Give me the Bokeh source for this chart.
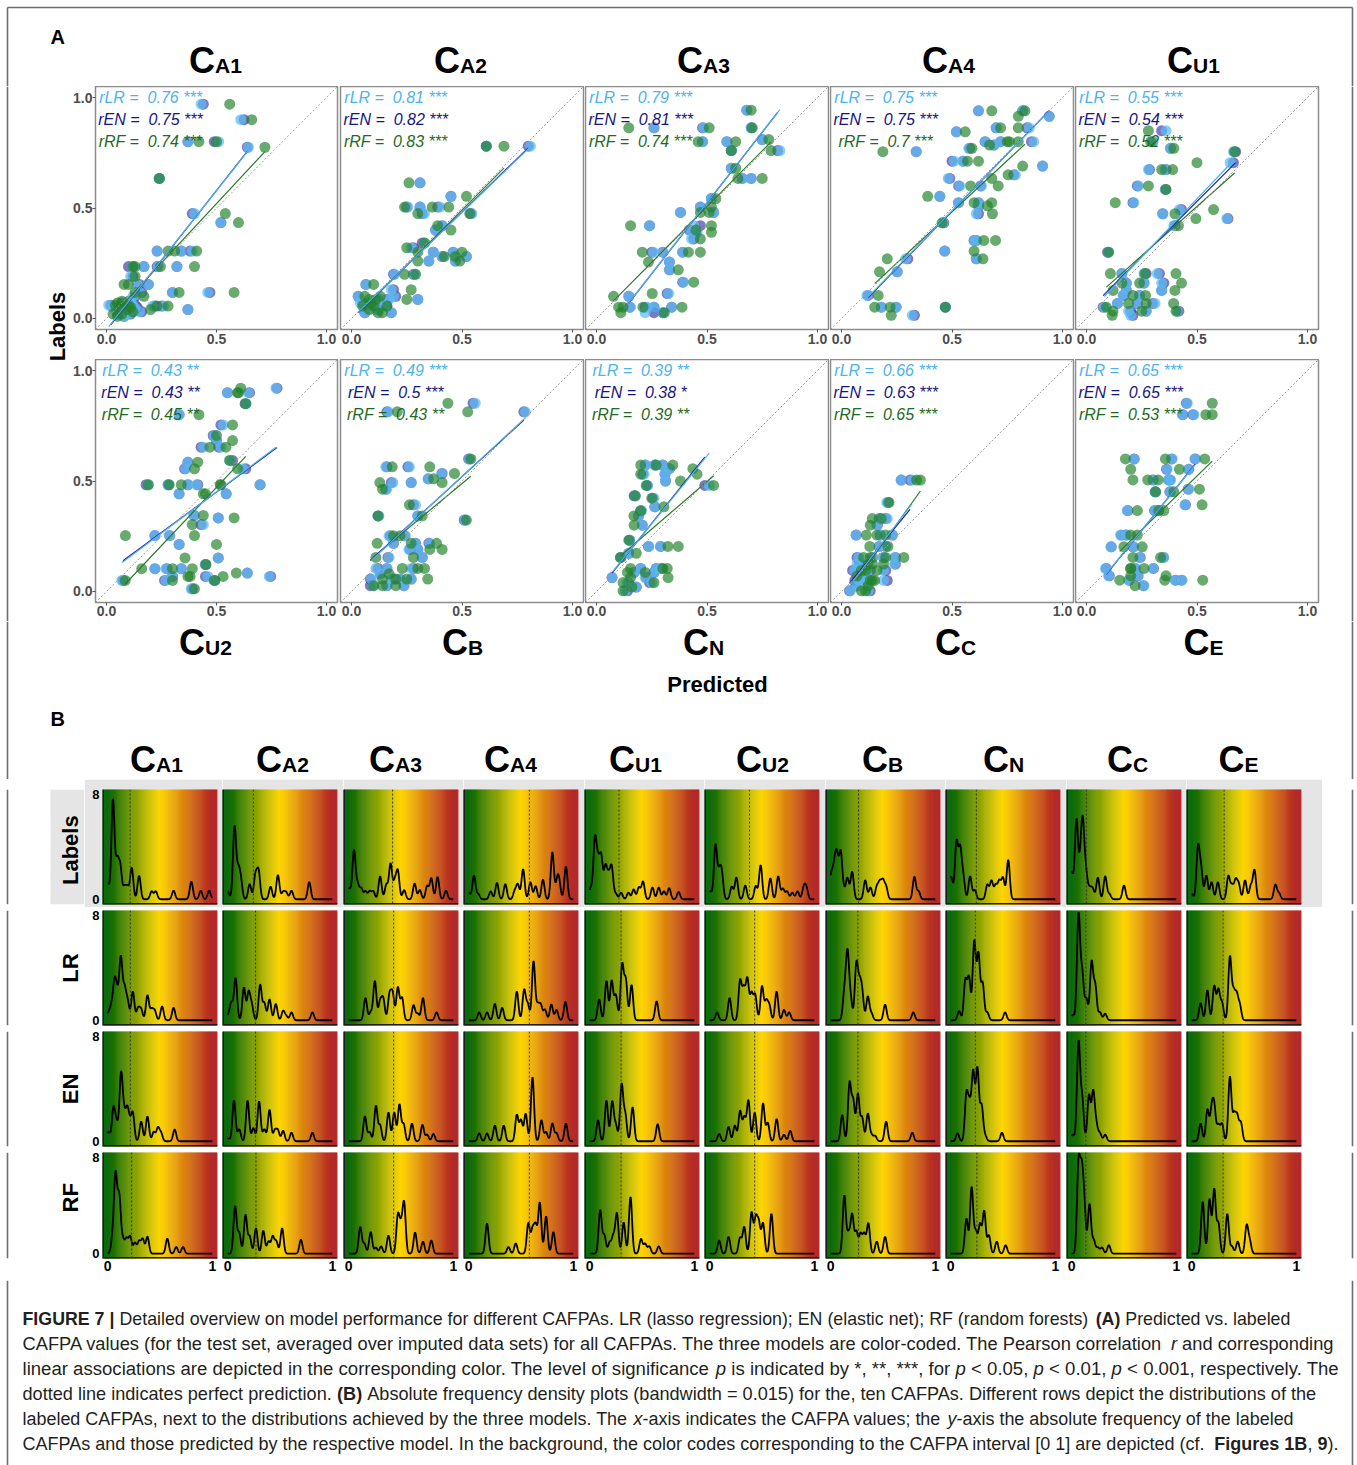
import math
import numpy as np
from bokeh.plotting import figure
from bokeh.layouts import column, row
from bokeh.models import Range1d, FixedTicker, PrintfTickFormatter, Slope, Span, ColumnDataSource
from bokeh.core.properties import value
from bokeh.embed import file_html
from bokeh.resources import INLINE

# ======================= DATA =======================
cafpas = ["CA1", "CA2", "CA3", "CA4", "CU1", "CU2", "CB", "CN", "CC", "CE"]
title_sub = ["A1", "A2", "A3", "A4", "U1", "U2", "B", "N", "C", "E"]

# --- panel A: labeled (y) vs predicted (x) per model ---
sc_CA1_y = [0.97,0.90,0.80,0.80,0.775,0.634,0.475,0.434,0.305,0.305,0.305,0.235,0.235,0.235,0.235,0.19,0.154,0.154,0.118,0.118,0.118,0.10,0.078,0.056,0.056,0.04,0.07,0.06,0.05,0.04,0.03,0.02,0.06,0.01,0.05,0.02]
sc_CA1_lr = [0.43,0.61,0.51,0.37,0.645,0.24,0.40,0.52,0.23,0.39,0.34,0.12,0.17,0.235,0.32,0.11,0.14,0.19,0.30,0.46,0.15,0.12,0.11,0.21,0.26,0.37,0.08,0.12,0.03,0.06,0.15,0.10,0.01,0.08,0.13,0.05]
sc_CA1_en = [0.44,0.625,0.49,0.37,0.64,0.24,0.39,0.52,0.23,0.38,0.34,0.10,0.17,0.23,0.32,0.12,0.15,0.19,0.30,0.47,0.16,0.13,0.10,0.22,0.25,0.37,0.07,0.13,0.04,0.07,0.16,0.11,0.02,0.08,0.14,0.05]
sc_CA1_rf = [0.56,0.66,0.50,0.42,0.72,0.24,0.54,0.60,0.28,0.41,0.31,0.13,0.12,0.245,0.40,0.13,0.08,0.10,0.33,0.58,0.13,0.17,0.07,0.23,0.28,0.20,0.05,0.10,0.06,0.09,0.12,0.07,0.04,0.05,0.11,0.03]

sc_CA2_y = [0.78,0.78,0.614,0.553,0.504,0.504,0.504,0.475,0.475,0.42,0.40,0.342,0.32,0.30,0.30,0.28,0.28,0.26,0.26,0.20,0.20,0.154,0.13,0.10,0.10,0.086,0.086,0.086,0.056,0.056,0.056,0.026,0.026,0.07,0.04]
sc_CA2_lr = [0.81,0.61,0.31,0.45,0.255,0.31,0.40,0.33,0.545,0.41,0.38,0.33,0.27,0.37,0.46,0.41,0.52,0.35,0.47,0.285,0.195,0.065,0.18,0.03,0.19,0.30,0.17,0.13,0.15,0.10,0.06,0.06,0.18,0.04,0.11]
sc_CA2_en = [0.80,0.61,0.31,0.45,0.25,0.31,0.39,0.32,0.54,0.41,0.38,0.32,0.28,0.37,0.46,0.41,0.52,0.35,0.47,0.28,0.19,0.065,0.19,0.03,0.20,0.30,0.16,0.12,0.16,0.11,0.06,0.06,0.18,0.05,0.12]
sc_CA2_rf = [0.69,0.61,0.26,0.52,0.24,0.365,0.44,0.30,0.535,0.39,0.45,0.33,0.25,0.30,0.50,0.42,0.47,0.30,0.49,0.29,0.24,0.10,0.27,0.06,0.13,0.25,0.08,0.11,0.16,0.10,0.05,0.14,0.12,0.09,0.08]

sc_CA3_y = [0.943,0.863,0.863,0.863,0.80,0.80,0.81,0.76,0.76,0.68,0.634,0.634,0.543,0.504,0.48,0.48,0.42,0.42,0.40,0.39,0.36,0.30,0.30,0.30,0.255,0.22,0.164,0.113,0.10,0.051,0.051,0.051,0.051,0.026,0.026]
sc_CA3_lr = [0.68,0.26,0.485,0.70,0.48,0.59,0.75,0.83,0.61,0.61,0.66,0.70,0.52,0.47,0.38,0.53,0.24,0.44,0.425,0.455,0.43,0.258,0.30,0.39,0.33,0.33,0.394,0.326,0.146,0.154,0.23,0.26,0.34,0.22,0.30]
sc_CA3_en = [0.68,0.26,0.48,0.70,0.48,0.59,0.75,0.82,0.61,0.61,0.66,0.70,0.52,0.47,0.38,0.53,0.24,0.47,0.42,0.45,0.44,0.25,0.30,0.39,0.33,0.33,0.39,0.32,0.146,0.15,0.22,0.26,0.34,0.26,0.30]
sc_CA3_rf = [0.70,0.146,0.51,0.705,0.46,0.63,0.78,0.79,0.61,0.63,0.75,0.64,0.54,0.52,0.51,0.47,0.154,0.52,0.45,0.52,0.47,0.207,0.416,0.47,0.235,0.37,0.44,0.252,0.077,0.10,0.12,0.387,0.21,0.307,0.11]

sc_CA4_y = [0.94,0.94,0.915,0.863,0.863,0.845,0.80,0.80,0.80,0.785,0.77,0.755,0.712,0.712,0.69,0.65,0.634,0.60,0.60,0.553,0.524,0.524,0.51,0.474,0.433,0.353,0.353,0.305,0.27,0.27,0.211,0.104,0.051,0.051,0.051,0.014]
sc_CA4_lr = [0.62,0.82,0.94,0.70,0.85,0.52,0.65,0.87,0.72,0.69,0.576,0.338,0.51,0.55,0.91,0.787,0.483,0.535,0.633,0.445,0.528,0.62,0.62,0.61,0.46,0.61,0.60,0.467,0.29,0.61,0.252,0.115,0.18,0.247,0.47,0.32]
sc_CA4_en = [0.62,0.82,0.94,0.70,0.84,0.52,0.65,0.86,0.72,0.69,0.58,0.338,0.50,0.55,0.91,0.78,0.49,0.53,0.63,0.445,0.53,0.62,0.62,0.62,0.463,0.61,0.60,0.467,0.30,0.61,0.252,0.12,0.18,0.247,0.47,0.33]
sc_CA4_rf = [0.68,0.83,0.80,0.72,0.80,0.56,0.75,0.80,0.76,0.67,0.59,0.187,0.62,0.57,0.82,0.754,0.68,0.584,0.709,0.39,0.60,0.68,0.66,0.683,0.455,0.697,0.644,0.60,0.207,0.64,0.172,0.166,0.15,0.22,0.47,0.225]

sc_CU1_y = [0.85,0.80,0.77,0.755,0.705,0.674,0.674,0.60,0.584,0.524,0.493,0.474,0.452,0.42,0.30,0.203,0.203,0.203,0.16,0.16,0.127,0.127,0.104,0.104,0.068,0.068,0.051,0.033,0.033,0.014,0.068,0.16,0.033]
sc_CU1_lr = [0.36,0.30,0.38,0.665,0.65,0.28,0.355,0.235,0.357,0.214,0.42,0.345,0.635,0.395,0.10,0.16,0.32,0.26,0.18,0.34,0.18,0.34,0.165,0.24,0.14,0.31,0.08,0.19,0.41,0.20,0.23,0.26,0.27]
sc_CU1_en = [0.34,0.30,0.38,0.675,0.665,0.285,0.36,0.23,0.357,0.21,0.43,0.345,0.64,0.40,0.095,0.16,0.33,0.27,0.18,0.35,0.18,0.34,0.168,0.24,0.14,0.30,0.075,0.20,0.418,0.21,0.23,0.26,0.27]
sc_CU1_rf = [0.28,0.29,0.395,0.67,0.50,0.34,0.39,0.28,0.36,0.13,0.575,0.40,0.495,0.416,0.10,0.108,0.264,0.405,0.16,0.43,0.12,0.40,0.267,0.21,0.19,0.394,0.09,0.12,0.405,0.116,0.27,0.24,0.25]

sc_CU2_y = [0.92,0.90,0.90,0.85,0.80,0.754,0.706,0.683,0.653,0.653,0.593,0.585,0.555,0.555,0.483,0.483,0.483,0.483,0.483,0.442,0.442,0.344,0.333,0.303,0.253,0.253,0.213,0.152,0.122,0.103,0.103,0.103,0.083,0.068,0.068,0.068,0.05,0.05,0.05,0.012]
sc_CU2_lr = [0.77,0.55,0.645,0.635,0.33,0.53,0.49,0.50,0.44,0.52,0.56,0.37,0.62,0.36,0.19,0.28,0.37,0.41,0.698,0.33,0.544,0.398,0.508,0.44,0.22,0.287,0.33,0.508,0.45,0.22,0.27,0.34,0.64,0.30,0.46,0.74,0.07,0.27,0.49,0.385]
sc_CU2_en = [0.775,0.55,0.65,0.63,0.33,0.52,0.485,0.50,0.43,0.51,0.573,0.37,0.633,0.355,0.18,0.28,0.37,0.415,0.698,0.33,0.544,0.398,0.508,0.43,0.22,0.287,0.33,0.508,0.45,0.22,0.275,0.34,0.64,0.30,0.45,0.746,0.075,0.264,0.493,0.39]
sc_CU2_rf = [0.61,0.596,0.60,0.633,0.42,0.573,0.50,0.573,0.47,0.543,0.56,0.415,0.596,0.40,0.19,0.285,0.34,0.517,0.52,0.44,0.45,0.44,0.58,0.39,0.086,0.40,0.50,0.357,0.452,0.16,0.30,0.39,0.59,0.37,0.53,0.38,0.085,0.30,0.49,0.40]

sc_CB_y = [0.852,0.813,0.813,0.60,0.564,0.564,0.534,0.51,0.493,0.493,0.463,0.392,0.342,0.323,0.342,0.252,0.252,0.218,0.218,0.218,0.19,0.19,0.154,0.154,0.104,0.104,0.104,0.056,0.056,0.056,0.056,0.026,0.026,0.026,0.08]
sc_CB_lr = [0.56,0.787,0.167,0.534,0.155,0.262,0.407,0.347,0.187,0.27,0.16,0.29,0.124,0.513,0.30,0.17,0.244,0.189,0.354,0.29,0.26,0.30,0.17,0.32,0.11,0.27,0.16,0.09,0.18,0.27,0.22,0.10,0.237,0.16,0.13]
sc_CB_en = [0.55,0.78,0.16,0.53,0.16,0.255,0.41,0.347,0.18,0.27,0.155,0.28,0.12,0.51,0.30,0.175,0.24,0.19,0.35,0.29,0.265,0.30,0.165,0.32,0.12,0.28,0.16,0.085,0.19,0.27,0.22,0.085,0.237,0.16,0.13]
sc_CB_rf = [0.436,0.526,0.207,0.54,0.184,0.354,0.466,0.372,0.128,0.41,0.14,0.262,0.12,0.52,0.32,0.19,0.22,0.116,0.385,0.27,0.354,0.41,0.11,0.28,0.33,0.30,0.23,0.14,0.20,0.345,0.25,0.10,0.20,0.14,0.17]

sc_CN_y = [0.572,0.572,0.572,0.556,0.531,0.531,0.50,0.48,0.48,0.433,0.422,0.383,0.365,0.342,0.30,0.232,0.204,0.204,0.173,0.154,0.104,0.104,0.104,0.086,0.086,0.063,0.063,0.04,0.04,0.003,0.02]
sc_CN_lr = [0.222,0.264,0.297,0.33,0.31,0.215,0.312,0.23,0.51,0.176,0.26,0.264,0.204,0.19,0.207,0.15,0.237,0.29,0.146,0.11,0.20,0.27,0.29,0.17,0.26,0.071,0.22,0.14,0.25,0.13,0.18]
sc_CN_en = [0.22,0.264,0.30,0.33,0.31,0.21,0.312,0.23,0.49,0.17,0.255,0.264,0.20,0.19,0.207,0.15,0.235,0.29,0.146,0.11,0.20,0.27,0.295,0.17,0.26,0.07,0.225,0.145,0.24,0.14,0.18]
sc_CN_rf = [0.20,0.27,0.345,0.436,0.455,0.20,0.38,0.225,0.53,0.175,0.25,0.305,0.20,0.169,0.17,0.146,0.323,0.37,0.18,0.108,0.154,0.32,0.30,0.14,0.22,0.154,0.324,0.12,0.26,0.12,0.16]

sc_CC_y = [0.504,0.504,0.403,0.33,0.33,0.30,0.255,0.255,0.255,0.204,0.204,0.154,0.154,0.154,0.154,0.124,0.124,0.095,0.095,0.095,0.05,0.05,0.05,0.003,0.003,0.07,0.12,0.025]
sc_CC_lr = [0.27,0.32,0.205,0.207,0.175,0.16,0.066,0.229,0.175,0.17,0.20,0.078,0.142,0.24,0.19,0.07,0.24,0.06,0.12,0.19,0.08,0.19,0.12,0.04,0.12,0.10,0.10,0.07]
sc_CC_en = [0.27,0.31,0.21,0.20,0.17,0.162,0.066,0.23,0.175,0.17,0.20,0.07,0.14,0.244,0.19,0.08,0.244,0.05,0.13,0.20,0.06,0.207,0.11,0.036,0.13,0.10,0.10,0.065]
sc_CC_rf = [0.357,0.34,0.215,0.139,0.18,0.13,0.112,0.20,0.16,0.128,0.21,0.13,0.10,0.282,0.20,0.14,0.19,0.11,0.09,0.16,0.14,0.13,0.15,0.109,0.09,0.07,0.12,0.12]

sc_CE_y = [0.852,0.80,0.80,0.60,0.60,0.60,0.553,0.553,0.505,0.505,0.505,0.463,0.451,0.451,0.392,0.366,0.366,0.366,0.255,0.255,0.202,0.202,0.154,0.154,0.104,0.104,0.104,0.071,0.071,0.051,0.051,0.051,0.026]
sc_CE_lr = [0.456,0.433,0.486,0.214,0.388,0.49,0.365,0.46,0.38,0.37,0.30,0.463,0.31,0.38,0.445,0.327,0.184,0.31,0.154,0.18,0.11,0.214,0.24,0.35,0.086,0.222,0.30,0.10,0.235,0.19,0.433,0.40,0.26]
sc_CE_en = [0.452,0.436,0.482,0.216,0.385,0.492,0.362,0.463,0.378,0.372,0.302,0.46,0.312,0.377,0.448,0.325,0.187,0.308,0.157,0.178,0.112,0.211,0.243,0.348,0.089,0.219,0.303,0.103,0.232,0.193,0.43,0.403,0.257]
sc_CE_rf = [0.569,0.54,0.569,0.176,0.357,0.535,0.20,0.42,0.277,0.324,0.21,0.511,0.312,0.395,0.523,0.327,0.23,0.35,0.23,0.20,0.169,0.252,0.21,0.335,0.20,0.20,0.26,0.20,0.36,0.15,0.354,0.526,0.22]

r_lr = [0.76, 0.81, 0.79, 0.75, 0.55, 0.43, 0.49, 0.39, 0.66, 0.65]
r_en = [0.75, 0.82, 0.81, 0.75, 0.54, 0.43, 0.5, 0.38, 0.63, 0.65]
r_rf = [0.74, 0.83, 0.74, 0.7, 0.52, 0.45, 0.43, 0.39, 0.65, 0.53]
sig_lr = ["***", "***", "***", "***", "***", "**", "***", "**", "***", "***"]
sig_en = ["***", "***", "***", "***", "***", "**", "***", "*", "***", "***"]
sig_rf = ["***", "***", "***", "***", "***", "**", "**", "**", "***", "***"]

# --- panel B: density components (position, height) per CAFPA and row ---
kde_lab_CA1 = [(0.0,1.2),(0.05,7.6),(0.09,2.8),(0.12,2.4),(0.16,0.9),(0.19,0.9),(0.23,2.4),(0.30,1.8),(0.42,0.6),(0.46,0.6),(0.63,0.65),(0.80,1.35),(0.89,0.65),(0.97,0.65)]
kde_lab_CA2 = [(0.0,0.6),(0.065,5.5),(0.10,2.0),(0.125,1.4),(0.21,1.15),(0.265,1.8),(0.295,2.1),(0.41,0.95),(0.48,1.85),(0.53,0.55),(0.56,0.5),(0.61,0.65),(0.78,1.3)]
kde_lab_CA3 = [(0.005,0.8),(0.05,3.7),(0.085,1.1),(0.12,0.8),(0.16,0.6),(0.20,0.6),(0.235,0.6),(0.30,1.75),(0.36,1.1),(0.40,2.7),(0.44,1.3),(0.47,2.1),(0.53,0.7),(0.63,1.2),(0.68,0.7),(0.75,1.0),(0.79,1.6),(0.85,1.7),(0.93,0.65)]
kde_lab_CA4 = [(0.0,0.5),(0.05,1.8),(0.09,0.4),(0.21,0.6),(0.27,1.25),(0.35,1.15),(0.44,0.6),(0.47,1.1),(0.52,2.3),(0.59,1.3),(0.64,1.0),(0.71,1.5),(0.80,3.6),(0.845,1.2),(0.865,1.2),(0.93,2.5)]
kde_lab_CU1 = [(0.01,0.85),(0.05,4.5),(0.08,2.6),(0.11,3.1),(0.15,2.4),(0.18,1.6),(0.21,2.4),(0.25,0.4),(0.30,0.5),(0.37,0.5),(0.42,0.75),(0.47,0.9),(0.51,1.35),(0.60,0.9),(0.66,0.9),(0.71,0.6),(0.76,0.85),(0.85,0.55)]
kde_lab_CU2 = [(0.005,0.6),(0.055,4.1),(0.09,1.8),(0.115,1.9),(0.21,0.95),(0.255,1.65),(0.34,1.05),(0.44,1.0),(0.487,2.6),(0.58,1.6),(0.655,1.75),(0.70,0.8),(0.74,0.6),(0.79,0.5),(0.84,0.6),(0.90,0.9),(0.925,0.8)]
kde_lab_CB = [(0.005,1.8),(0.035,2.2),(0.06,3.0),(0.095,3.5),(0.125,0.6),(0.16,1.6),(0.205,2.1),(0.33,1.45),(0.38,0.9),(0.44,0.9),(0.47,1.2),(0.50,1.3),(0.53,0.9),(0.80,1.7),(0.84,0.6)]
kde_lab_CN = [(0.005,1.7),(0.055,4.3),(0.09,3.7),(0.12,1.6),(0.185,1.75),(0.23,0.7),(0.35,1.1),(0.39,1.4),(0.43,1.05),(0.465,1.35),(0.50,1.6),(0.55,3.0)]
kde_lab_CC = [(0.0,2.0),(0.045,6.0),(0.08,2.2),(0.105,5.6),(0.135,2.0),(0.17,0.8),(0.20,0.8),(0.25,1.65),(0.32,1.75),(0.36,0.4),(0.50,1.05)]
kde_lab_CE = [(0.0,0.4),(0.06,3.9),(0.09,2.2),(0.14,1.8),(0.19,1.3),(0.25,1.3),(0.35,1.75),(0.385,1.0),(0.42,1.4),(0.45,1.1),(0.51,1.45),(0.565,1.0),(0.60,2.2),(0.80,1.1),(0.835,0.45)]

kde_lr_CA1 = [(0.005,0.5),(0.035,1.0),(0.065,2.7),(0.09,1.8),(0.125,4.7),(0.16,2.3),(0.19,1.4),(0.24,2.2),(0.29,0.9),(0.32,0.8),(0.38,1.9),(0.42,0.8),(0.45,0.7),(0.52,1.05),(0.63,0.95)]
kde_lr_CA2 = [(0.005,0.35),(0.035,1.3),(0.075,3.2),(0.155,2.5),(0.20,2.1),(0.23,1.1),(0.31,2.7),(0.35,1.3),(0.40,1.6),(0.46,1.25),(0.53,0.7),(0.56,0.3),(0.61,0.6),(0.81,0.6)]
kde_lr_CA3 = [(0.16,1.7),(0.21,0.6),(0.25,3.0),(0.30,1.4),(0.33,1.6),(0.39,1.9),(0.42,2.0),(0.47,2.5),(0.51,1.7),(0.62,1.15),(0.66,0.5),(0.71,1.7),(0.84,0.6)]
kde_lr_CA4 = [(0.10,0.6),(0.175,0.6),(0.25,1.25),(0.32,0.95),(0.46,2.2),(0.53,2.3),(0.565,1.2),(0.62,4.5),(0.66,1.1),(0.69,1.1),(0.73,0.8),(0.79,1.2),(0.84,0.8),(0.925,1.4)]
kde_lr_CU1 = [(0.09,1.6),(0.16,3.0),(0.21,3.0),(0.25,1.9),(0.31,4.2),(0.345,3.0),(0.40,2.7),(0.64,1.45)]
kde_lr_CU2 = [(0.07,0.6),(0.19,1.7),(0.29,3.0),(0.325,2.3),(0.36,3.1),(0.40,2.0),(0.435,1.9),(0.50,2.6),(0.54,1.4),(0.57,1.1),(0.64,2.2),(0.71,0.8),(0.76,0.6)]
kde_lr_CB = [(0.13,2.0),(0.16,5.0),(0.19,1.6),(0.245,4.2),(0.275,2.4),(0.30,2.0),(0.355,1.8),(0.39,0.5),(0.52,1.2),(0.79,0.6)]
kde_lr_CN = [(0.08,0.7),(0.14,3.0),(0.175,3.2),(0.225,6.0),(0.265,5.0),(0.305,2.8),(0.35,0.6),(0.52,0.6)]
kde_lr_CC = [(0.01,0.4),(0.065,8.0),(0.10,3.5),(0.14,1.6),(0.19,4.4),(0.225,2.6),(0.27,0.6),(0.32,0.5)]
kde_lr_CE = [(0.085,1.3),(0.15,2.3),(0.215,2.6),(0.255,2.3),(0.29,1.3),(0.365,4.8),(0.40,2.0),(0.43,1.8),(0.46,1.1)]

kde_en_CA1 = [(0.008,0.7),(0.055,2.5),(0.085,1.3),(0.127,5.0),(0.155,1.8),(0.185,2.2),(0.21,1.2),(0.24,2.1),(0.32,1.5),(0.38,1.9),(0.44,0.7),(0.48,1.0),(0.51,0.6),(0.64,0.9)]
kde_en_CA2 = [(0.005,0.2),(0.06,3.1),(0.11,0.9),(0.19,3.1),(0.245,1.0),(0.30,3.05),(0.35,0.9),(0.40,2.4),(0.45,0.8),(0.48,0.8),(0.53,0.8),(0.61,0.65),(0.81,0.65)]
kde_en_CA3 = [(0.155,1.9),(0.20,0.7),(0.26,2.7),(0.30,1.2),(0.38,2.2),(0.435,2.2),(0.485,2.8),(0.525,1.3),(0.605,1.35),(0.705,1.25),(0.75,0.5),(0.81,0.55)]
kde_en_CA4 = [(0.10,0.6),(0.175,0.6),(0.25,1.2),(0.335,1.2),(0.46,2.0),(0.50,1.6),(0.545,2.1),(0.61,4.9),(0.695,1.6),(0.74,0.7),(0.80,1.35),(0.84,0.6),(0.93,1.35)]
kde_en_CU1 = [(0.08,1.6),(0.16,3.1),(0.215,3.0),(0.25,1.2),(0.305,4.3),(0.34,2.0),(0.41,2.6),(0.65,1.3)]
kde_en_CU2 = [(0.09,0.55),(0.18,1.1),(0.24,1.2),(0.29,2.3),(0.33,1.8),(0.37,3.1),(0.43,2.2),(0.51,2.9),(0.555,1.4),(0.64,1.7),(0.71,0.5),(0.77,0.8)]
kde_en_CB = [(0.11,2.0),(0.18,4.4),(0.215,3.0),(0.26,3.6),(0.30,1.8),(0.355,2.1),(0.39,0.45),(0.425,0.4),(0.53,1.5),(0.78,0.65)]
kde_en_CN = [(0.065,0.6),(0.15,3.5),(0.18,2.6),(0.215,5.2),(0.255,5.5),(0.295,2.7),(0.33,0.4),(0.49,0.65)]
kde_en_CC = [(0.01,0.5),(0.065,7.5),(0.10,3.2),(0.165,3.5),(0.205,3.7),(0.235,1.2),(0.27,0.6),(0.32,0.5)]
kde_en_CE = [(0.085,1.35),(0.15,2.4),(0.19,2.2),(0.215,2.5),(0.255,1.2),(0.29,1.3),(0.365,4.9),(0.405,1.9),(0.435,1.8),(0.47,1.4)]

kde_rf_CA1 = [(0.046,1.2),(0.075,6.4),(0.11,4.6),(0.145,1.1),(0.18,1.2),(0.215,1.4),(0.26,0.9),(0.30,1.0),(0.335,1.2),(0.38,1.4),(0.57,1.25),(0.655,0.55),(0.72,0.55)]
kde_rf_CA2 = [(0.07,3.9),(0.11,1.7),(0.17,3.2),(0.21,1.4),(0.27,2.1),(0.34,1.9),(0.39,1.0),(0.43,1.4),(0.465,1.0),(0.52,2.1),(0.70,1.15)]
kde_rf_CA3 = [(0.11,2.2),(0.15,0.8),(0.21,1.8),(0.26,0.5),(0.31,0.6),(0.38,1.5),(0.47,3.1),(0.50,2.0),(0.53,4.1),(0.635,1.75),(0.71,1.0),(0.79,1.1)]
kde_rf_CA4 = [(0.175,2.5),(0.38,0.55),(0.45,0.85),(0.57,2.5),(0.61,1.9),(0.64,2.2),(0.68,4.2),(0.74,3.1),(0.81,1.8)]
kde_rf_CU1 = [(0.10,3.6),(0.14,1.5),(0.19,0.9),(0.225,1.4),(0.26,3.3),(0.325,2.6),(0.39,4.7),(0.49,1.2),(0.53,0.8),(0.57,0.6),(0.66,0.6)]
kde_rf_CU2 = [(0.09,1.1),(0.18,1.4),(0.29,1.3),(0.33,2.2),(0.40,3.4),(0.44,2.8),(0.47,2.4),(0.51,2.5),(0.59,3.3)]
kde_rf_CB = [(0.13,4.8),(0.17,1.6),(0.205,3.2),(0.245,1.8),(0.285,1.6),(0.32,1.6),(0.36,2.5),(0.44,1.0),(0.52,1.4)]
kde_rf_CN = [(0.15,2.9),(0.20,5.5),(0.24,1.8),(0.28,2.4),(0.32,3.5),(0.365,1.5),(0.44,1.0),(0.525,0.7)]
kde_rf_CC = [(0.065,7.2),(0.095,6.0),(0.12,3.6),(0.17,4.1),(0.21,1.1),(0.25,0.5),(0.29,0.5),(0.355,0.7)]
kde_rf_CE = [(0.105,4.3),(0.17,4.5),(0.215,5.3),(0.255,2.5),(0.34,3.3),(0.385,0.6),(0.44,1.0),(0.525,2.3),(0.555,1.0)]

# dotted reference line per panel (row x CAFPA)
thr_lab = [0.214, 0.245, 0.42, 0.58, 0.28, 0.38, 0.266, 0.245, 0.14, 0.31]
thr_lr = [0.216, 0.266, 0.43, 0.58, 0.30, 0.43, 0.26, 0.235, 0.135, 0.30]
thr_en = [0.216, 0.266, 0.43, 0.58, 0.30, 0.43, 0.26, 0.235, 0.135, 0.30]
thr_rf = [0.229, 0.27, 0.43, 0.58, 0.30, 0.43, 0.266, 0.25, 0.135, 0.30]

row_names = ["Labels", "LR", "EN", "RF"]
BW = 0.015

caption_lines = [
    [("FIGURE 7 |", "bold"), (" Detailed overview on model performance for different CAFPAs. LR (lasso regression); EN (elastic net); RF (random forests) ", "normal"), ("(A)", "bold"), (" Predicted vs. labeled", "normal")],
    [("CAFPA values (for the test set, averaged over imputed data sets) for all CAFPAs. The three models are color-coded. The Pearson correlation ", "normal"), ("r", "italic"), (" and corresponding", "normal")],
    [("linear associations are depicted in the corresponding color. The level of significance ", "normal"), ("p", "italic"), (" is indicated by *, **, ***, for ", "normal"), ("p", "italic"), (" < 0.05, ", "normal"), ("p", "italic"), (" < 0.01, ", "normal"), ("p", "italic"), (" < 0.001, respectively. The", "normal")],
    [("dotted line indicates perfect prediction. ", "normal"), ("(B)", "bold"), (" Absolute frequency density plots (bandwidth = 0.015) for the, ten CAFPAs. Different rows depict the distributions of the", "normal")],
    [("labeled CAFPAs, next to the distributions achieved by the three models. The ", "normal"), ("x", "italic"), ("-axis indicates the CAFPA values; the ", "normal"), ("y", "italic"), ("-axis the absolute frequency of the labeled", "normal")],
    [("CAFPAs and those predicted by the respective model. In the background, the color codes corresponding to the CAFPA interval [0 1] are depicted (cf. ", "normal"), ("Figures 1B", "bold"), (", ", "normal"), ("9", "bold"), (").", "normal")],
]
caption_line_end = [1290, 1333, 1340, 1318, 1293, 1338]

# ======================= STYLE / HELPERS =======================
FONT = value("Liberation Sans")
FONT_NAME = "Liberation Sans"
C_LR, C_EN, C_RF = "#5CBDF5", "#2E2799", "#22822A"
T_LR, T_EN, T_RF = "#4DB3EE", "#17177E", "#1E6B1E"
L_LR, L_EN, L_RF = "#4DB3F0", "#1C1C9C", "#2A7A2A"
FRAME = "#6e6e6e"
NBSP = "\u00a0"

W_REG = [278,278,355,556,556,889,667,191,333,333,389,584,278,333,278,278,
         556,556,556,556,556,556,556,556,556,556,
         278,278,584,584,584,556,1015,
         667,667,722,722,667,611,778,722,278,500,667,556,833,722,778,667,778,722,667,611,722,667,944,667,667,611,
         278,278,278,469,556,333,
         556,556,500,556,556,278,556,556,222,222,500,222,833,556,556,556,556,333,500,278,556,500,722,500,500,500,
         334,260,334,584]
W_BOLD = [278,333,474,556,556,889,722,238,333,333,389,584,278,333,278,278,
          556,556,556,556,556,556,556,556,556,556,
          333,333,584,584,584,611,975,
          722,722,722,722,667,611,778,722,278,556,722,611,833,722,778,667,778,722,667,611,722,667,944,667,667,611,
          333,278,333,584,556,333,
          556,611,556,611,556,333,611,611,278,278,556,278,889,611,611,611,611,389,556,333,611,556,778,556,556,500,
          389,280,389,584]


def tw(s, bold=False):
    t = W_BOLD if bold else W_REG
    return sum((t[ord(c) - 32] if 32 <= ord(c) <= 126 else 556) for c in s) / 1000.0


def canvas(w, h):
    f = figure(width=w, height=h, x_range=Range1d(0, w), y_range=Range1d(h, 0),
               toolbar_location=None, output_backend="svg", min_border=0,
               x_axis_location=None, y_axis_location=None, outline_line_color=None,
               background_fill_color="white", border_fill_color="white")
    f.xgrid.visible = False
    f.ygrid.visible = False
    return f


def fline(f, xs, ys):
    f.line(xs, ys, line_color=FRAME, line_width=1.6)


def txt(f, x, y, s, size, style="bold", align="left", angle=0.0, color="black"):
    f.text(x=[x], y=[y], text=[s], text_font=FONT, text_font_size=f"{size}px",
           text_font_style=style, text_align=align, text_baseline="middle",
           angle=angle, text_color=color)


MID = 0.3465  # distance (in em) from baseline to the 'middle' text line


def ctitle(f, cx, base, sub):
    wc = tw("C", True) * 36
    ws = tw(sub, True) * 21
    x0 = cx - (wc + ws) / 2.0
    txt(f, x0, base - MID * 36, "C", 36)
    txt(f, x0 + wc, base - MID * 21, sub, 21)


def style_axis(ax, size, color, tick_out, standoff, tick_color):
    ax.major_label_text_font = FONT_NAME
    ax.major_label_text_font_size = f"{size}px"
    ax.major_label_text_font_style = "bold"
    ax.major_label_text_color = color
    ax.major_tick_out = tick_out
    ax.major_tick_in = 0
    ax.major_tick_line_color = tick_color
    ax.minor_tick_line_color = None
    ax.minor_tick_out = 0
    ax.axis_line_color = None
    ax.major_label_standoff = standoff


scatter_data = {
    "CA1": (sc_CA1_y, sc_CA1_lr, sc_CA1_en, sc_CA1_rf),
    "CA2": (sc_CA2_y, sc_CA2_lr, sc_CA2_en, sc_CA2_rf),
    "CA3": (sc_CA3_y, sc_CA3_lr, sc_CA3_en, sc_CA3_rf),
    "CA4": (sc_CA4_y, sc_CA4_lr, sc_CA4_en, sc_CA4_rf),
    "CU1": (sc_CU1_y, sc_CU1_lr, sc_CU1_en, sc_CU1_rf),
    "CU2": (sc_CU2_y, sc_CU2_lr, sc_CU2_en, sc_CU2_rf),
    "CB": (sc_CB_y, sc_CB_lr, sc_CB_en, sc_CB_rf),
    "CN": (sc_CN_y, sc_CN_lr, sc_CN_en, sc_CN_rf),
    "CC": (sc_CC_y, sc_CC_lr, sc_CC_en, sc_CC_rf),
    "CE": (sc_CE_y, sc_CE_lr, sc_CE_en, sc_CE_rf),
}

kde_rows = [
    dict(CA1=kde_lab_CA1, CA2=kde_lab_CA2, CA3=kde_lab_CA3, CA4=kde_lab_CA4, CU1=kde_lab_CU1,
         CU2=kde_lab_CU2, CB=kde_lab_CB, CN=kde_lab_CN, CC=kde_lab_CC, CE=kde_lab_CE),
    dict(CA1=kde_lr_CA1, CA2=kde_lr_CA2, CA3=kde_lr_CA3, CA4=kde_lr_CA4, CU1=kde_lr_CU1,
         CU2=kde_lr_CU2, CB=kde_lr_CB, CN=kde_lr_CN, CC=kde_lr_CC, CE=kde_lr_CE),
    dict(CA1=kde_en_CA1, CA2=kde_en_CA2, CA3=kde_en_CA3, CA4=kde_en_CA4, CU1=kde_en_CU1,
         CU2=kde_en_CU2, CB=kde_en_CB, CN=kde_en_CN, CC=kde_en_CC, CE=kde_en_CE),
    dict(CA1=kde_rf_CA1, CA2=kde_rf_CA2, CA3=kde_rf_CA3, CA4=kde_rf_CA4, CU1=kde_rf_CU1,
         CU2=kde_rf_CU2, CB=kde_rf_CB, CN=kde_rf_CN, CC=kde_rf_CC, CE=kde_rf_CE),
]
thr_rows = [thr_lab, thr_lr, thr_en, thr_rf]

# ======================= PANEL A =======================
def make_scatter(k, w, h, mbl, mbr, mbb, show_y, standoff):
    y, lr, en, rf = scatter_data[cafpas[k]]
    p = figure(width=w, height=h, x_range=Range1d(-0.05, 1.05), y_range=Range1d(-0.05, 1.05),
               toolbar_location=None, output_backend="svg",
               min_border_left=mbl, min_border_right=mbr, min_border_top=0, min_border_bottom=mbb,
               y_axis_location=("left" if show_y else None))
    p.xgrid.visible = False
    p.ygrid.visible = False
    p.outline_line_color = "#8c8c8c"
    p.outline_line_width = 1.5
    p.add_layout(Slope(gradient=1, y_intercept=0, line_color="#9c9c9c", line_dash="2 2", line_width=1))
    for xs, col, a in ((en, C_EN, 0.62), (lr, C_LR, 0.72), (rf, C_RF, 0.68)):
        p.scatter(xs, y, size=11, fill_color=col, fill_alpha=a, line_color=None)
    for xs, col in ((rf, L_RF), (en, L_EN), (lr, L_LR)):
        sl, ic = np.polyfit(np.array(xs), np.array(y), 1)
        xx = np.array([min(xs), max(xs)])
        p.line(xx, sl * xx + ic, line_color=col, line_width=1.2)
    labels = [f"rLR =" + NBSP + f" {r_lr[k]} {sig_lr[k]}",
              f"rEN =" + NBSP + f" {r_en[k]} {sig_en[k]}",
              f"rRF =" + NBSP + f" {r_rf[k]} {sig_rf[k]}"]
    p.text(x=[0.2, 0.2, 0.2], y=[1.0, 0.9, 0.8], text=labels, text_color=[T_LR, T_EN, T_RF],
           text_font=FONT, text_font_style="italic", text_font_size="16px",
           text_align="center", text_baseline="middle")
    p.xaxis.ticker = FixedTicker(ticks=[0, 0.5, 1.0])
    p.xaxis.formatter = PrintfTickFormatter(format="%.1f")
    style_axis(p.xaxis[0], 14, "#4d4d4d", 3, standoff, "#555555")
    if show_y:
        p.yaxis.ticker = FixedTicker(ticks=[0, 0.5, 1.0])
        p.yaxis.formatter = PrintfTickFormatter(format="%.1f")
        style_axis(p.yaxis[0], 14, "#4d4d4d", 3, 0, "#555555")
    return p


# header stripe
hdr = canvas(1357, 86)
fline(hdr, [7, 1352], [7, 7])
fline(hdr, [7, 7], [7, 86])
fline(hdr, [1352, 1352], [7, 86])
txt(hdr, 50, 36, "A", 20)
for cx, sub in zip([215, 460, 703, 948, 1193], title_sub[:5]):
    ctitle(hdr, cx, 72, sub)

widths_a = [269, 245, 245, 245, 256]
mbl_a = [24, 1, 1, 1, 1]
mbr_a = [2, 1, 1, 1, 12]
row1 = [make_scatter(i, widths_a[i], 273, mbl_a[i], mbr_a[i], 30, i == 0, 1) for i in range(5)]
row2 = [make_scatter(i + 5, widths_a[i], 262, mbl_a[i], mbr_a[i], 19, i == 0, 0) for i in range(5)]

left_a = canvas(70, 535)
fline(left_a, [7, 7], [0, 535])
txt(left_a, 57, 240, "Labels", 22, align="center", angle=math.pi / 2)
right_a = canvas(27, 535)
fline(right_a, [22, 22], [0, 535])

block_a = row(left_a, column(row(*row1), row(*row2)), right_a)

# middle stripe (page y 621..779): bottom titles, x label, B header
mid = canvas(1357, 158)
fline(mid, [7, 7], [0, 158])
fline(mid, [1352, 1352], [0, 158])
for cx, sub in zip([205, 462, 703, 955, 1203], title_sub[5:]):
    ctitle(mid, cx, 33, sub)
txt(mid, 717, 63, "Predicted", 22, align="center")
txt(mid, 50, 97, "B", 20)
for cx, sub in zip([156, 282, 395, 510, 635, 762, 882, 1003, 1127, 1238], title_sub):
    ctitle(mid, cx, 150, sub)

# ======================= PANEL B =======================
def ramp(t):
    stops = [(0.0, (0, 100, 0)), (0.5, (255, 215, 0)), (1.0, (178, 34, 34))]
    t = min(max(t, 0.0), 1.0)
    for (t0, c0), (t1, c1) in zip(stops[:-1], stops[1:]):
        if t <= t1:
            u = (t - t0) / (t1 - t0)
            return "#%02x%02x%02x" % tuple(int(round(a + (b - a) * u)) for a, b in zip(c0, c1))
    return "#b22222"


edges = np.linspace(-0.05, 1.05, 111)
mids = (edges[:-1] + edges[1:]) / 2.0
grad_src = ColumnDataSource(dict(l=edges[:-1], r=edges[1:], c=[ramp(t) for t in mids]))
xg = np.linspace(0.0, 1.0, 401)


def kde_curve(comps):
    yv = np.zeros_like(xg)
    for m, hgt in comps:
        yv += hgt * np.exp(-0.5 * ((xg - m) / BW) ** 2)
    return yv


def make_density(ci, ri, w, h, mbl, mbr, mbt, mbb, fill):
    p = figure(width=w, height=h, x_range=Range1d(-0.05, 1.05), y_range=Range1d(-0.4, 8.4),
               toolbar_location=None, output_backend="svg",
               min_border_left=mbl, min_border_right=mbr, min_border_top=mbt, min_border_bottom=mbb,
               x_axis_location=("below" if ri == 3 else None),
               y_axis_location=("left" if ci == 0 else None),
               outline_line_color=None, border_fill_color=fill, background_fill_color="white")
    p.xgrid.visible = False
    p.ygrid.visible = False
    p.quad(left="l", right="r", bottom=-0.4, top=8.4, fill_color="c", line_color="c",
           line_width=0.6, source=grad_src)
    p.add_layout(Span(location=thr_rows[ri][ci], dimension="height", line_color="#333333",
                      line_dash="2 2", line_width=1))
    p.line(xg, kde_curve(kde_rows[ri][cafpas[ci]]), line_color="black", line_width=1.8)
    p.line([-0.05, -0.05, 1.05], [8.4, -0.4, -0.4], line_color="#1e1e1e", line_width=3)
    if ci == 0:
        p.yaxis.ticker = FixedTicker(ticks=[0, 8])
        style_axis(p.yaxis[0], 13, "black", 0, 3, None)
    if ri == 3:
        p.xaxis.ticker = FixedTicker(ticks=[0, 1])
        style_axis(p.xaxis[0], 14, "black", 0, 2, None)
    return p


frame_left = [102, 222, 343, 463, 584, 704, 825, 945, 1066, 1186]
# (figure height, top border, frame height, bottom border)
row_specs = [(128, 10, 115, 3), (121, 3, 115, 3), (121, 3, 115, 3), (131, 3, 106, 22)]
row_label_y = [67.5, 60.5, 60.5, 56]
b_rows = []
for ri, (h, mbt, fh, mbb) in enumerate(row_specs):
    fill = "#e5e5e5" if ri == 0 else "white"
    lf = canvas(84, h)
    if ri == 0:
        lf.quad(left=[50], right=[84], top=[0], bottom=[h], fill_color="#e5e5e5", line_color=None)
    fline(lf, [7, 7], [0, h])
    txt(lf, 70, row_label_y[ri], row_names[ri], 22, align="center", angle=math.pi / 2)
    figs = [lf]
    for ci in range(10):
        if ci == 0:
            w, mbl = 138, 18
        elif ci < 9:
            w, mbl = frame_left[ci + 1] - frame_left[ci], 0
        else:
            w, mbl = 136, 0
        mbr = w - mbl - 115
        figs.append(make_density(ci, ri, w, h, mbl, mbr, mbt, mbb, fill))
    rf_ = canvas(35, h)
    fline(rf_, [30, 30], [0, h])
    figs.append(rf_)
    b_rows.append(row(*figs))

# ======================= CAPTION =======================
cap = canvas(1357, 185)
fline(cap, [7, 7], [0, 185])
fline(cap, [1352, 1352], [0, 185])
for li, segs in enumerate(caption_lines):
    yy = 38 + 25 * li
    em = sum(tw(s, st == "bold") for s, st in segs)
    fs = (caption_line_end[li] - 22.0) / em
    x = 22.0
    for s, st in segs:
        bold = st == "bold"
        lead = len(s) - len(s.lstrip(" "))
        core = s.strip(" ")
        if core:
            txt(cap, x + tw(" " * lead, bold) * fs, yy, core, round(fs, 2), style=st, color="#231f20")
        x += tw(s, bold) * fs

layout = column(hdr, block_a, mid, *b_rows, cap)
open("out.html", "w").write(file_html(layout, INLINE))
